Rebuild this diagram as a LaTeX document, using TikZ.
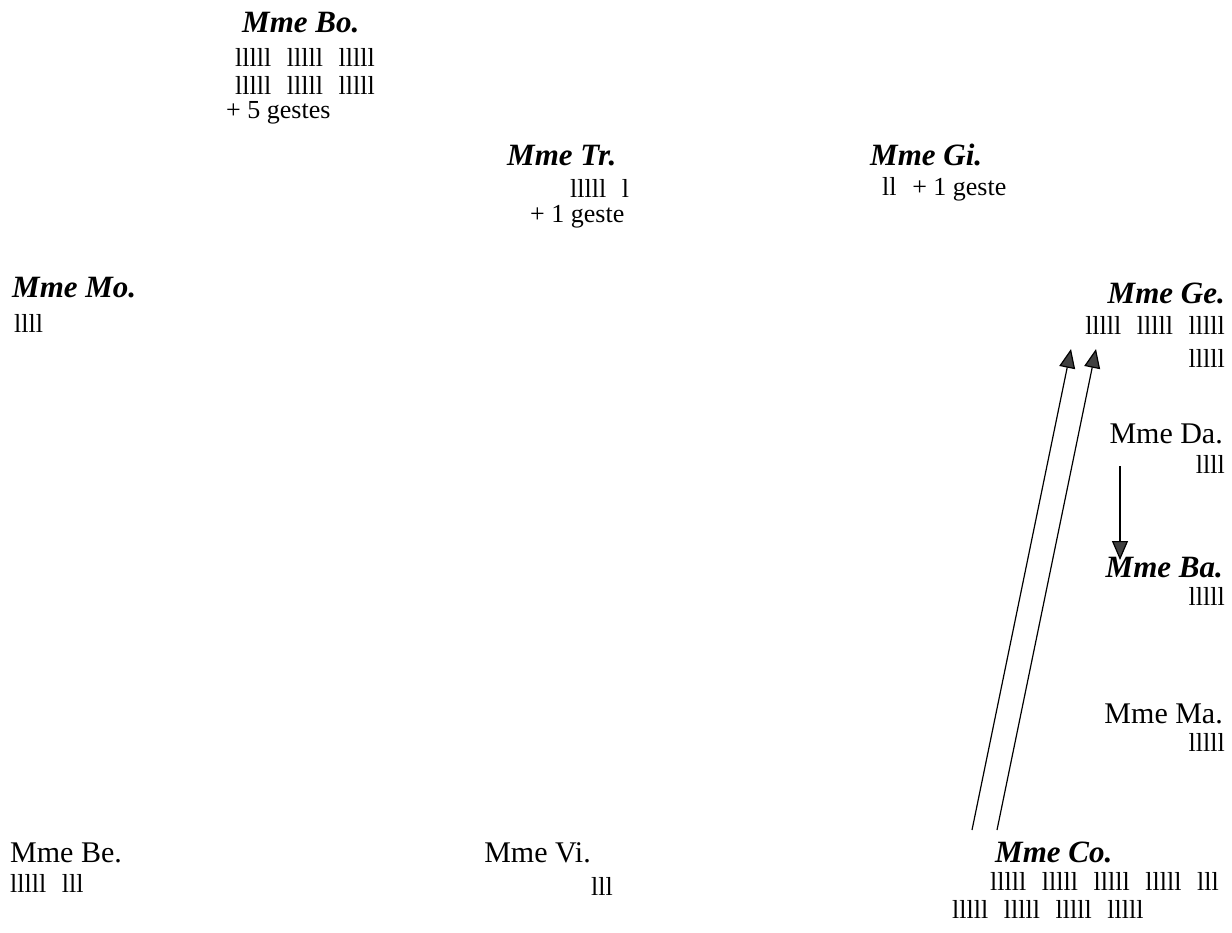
\documentclass[tikz,border=0pt]{standalone}
\usepackage{fontspec}
\setmainfont{Liberation Serif}
\usetikzlibrary{arrows.meta}
\newcommand\gp{\hspace{0.6em}}

\begin{document}
\begin{tikzpicture}[x=1pt, y=-1pt,
  who/.style={inner sep=0pt, font=\fontsize{30}{36}\selectfont},
  boss/.style={inner sep=0pt, font=\fontsize{31}{36}\selectfont\bfseries\itshape},
  tally/.style={inner sep=0pt, font=\fontsize{26}{30}\selectfont},
  link/.style={-{Triangle[length=19pt,width=16pt,fill=black!75]}, line width=1.2pt}
]
  \useasboundingbox (0,0) rectangle (1232,933);

  % top row
  \node[boss, anchor=base west] (bo) at (242,33) {Mme Bo.};
  \node[tally, anchor=base west] (bo1) at (235,67) {lllll\gp lllll\gp lllll};
  \node[tally, anchor=base west] (bo2) at (235,95) {lllll\gp lllll\gp lllll};
  \node[tally, anchor=base west] (bog) at (226,119) {+ 5 gestes};

  \node[boss, anchor=base west] (tr) at (507,166) {Mme Tr.};
  \node[tally, anchor=base west] (trt) at (570,198) {lllll\gp l};
  \node[tally, anchor=base west] (trg) at (530,223) {+ 1 geste};

  \node[boss, anchor=base west] (gi) at (870,166) {Mme Gi.};
  \node[tally, anchor=base west] (git) at (882,196) {ll\gp + 1 geste};

  % left side
  \node[boss, anchor=base west] (mo) at (12,298) {Mme Mo.};
  \node[tally, anchor=base west] (mot) at (14,333) {llll};

  % right column
  \node[boss, anchor=base east] (ge) at (1225,304) {Mme Ge.};
  \node[tally, anchor=base east] (ge1) at (1225,335) {lllll\gp lllll\gp lllll};
  \node[tally, anchor=base east] (ge2) at (1225,367) {lllll};

  \node[who, anchor=base east] (da) at (1223,443) {Mme Da.};
  \node[tally, anchor=base east] (dat) at (1225,473) {llll};

  \node[boss, anchor=base east] (ba) at (1223,577) {Mme Ba.};
  \node[tally, anchor=base east] (bat) at (1225,605) {lllll};

  \node[who, anchor=base east] (ma) at (1223,723) {Mme Ma.};
  \node[tally, anchor=base east] (mat) at (1225,751) {lllll};

  % bottom row
  \node[who, anchor=base west] (be) at (10,862) {Mme Be.};
  \node[tally, anchor=base west] (bet) at (10,892) {lllll\gp lll};

  \node[who, anchor=base east] (vi) at (591,862) {Mme Vi.};
  \node[tally, anchor=base east] (vit) at (613,895) {lll};

  \node[boss, anchor=base west] (co) at (995,862) {Mme Co.};
  \node[tally, anchor=base west] (co1) at (990,890) {lllll\gp lllll\gp lllll\gp lllll\gp lll};
  \node[tally, anchor=base west] (co2) at (952,918) {lllll\gp lllll\gp lllll\gp lllll};

  % arrows
  \coordinate (co-a) at (972,830);
  \coordinate (co-b) at (997,830);
  \coordinate (ge-a) at (1071,349);
  \coordinate (ge-b) at (1096,349);
  \coordinate (da-out) at (1120,466);
  \coordinate (ba-in) at (1120,560);

  \draw[link] (co-a) -- (ge-a);
  \draw[link] (co-b) -- (ge-b);
  \draw[link] (da-out) -- (ba-in);
\end{tikzpicture}
\end{document}
